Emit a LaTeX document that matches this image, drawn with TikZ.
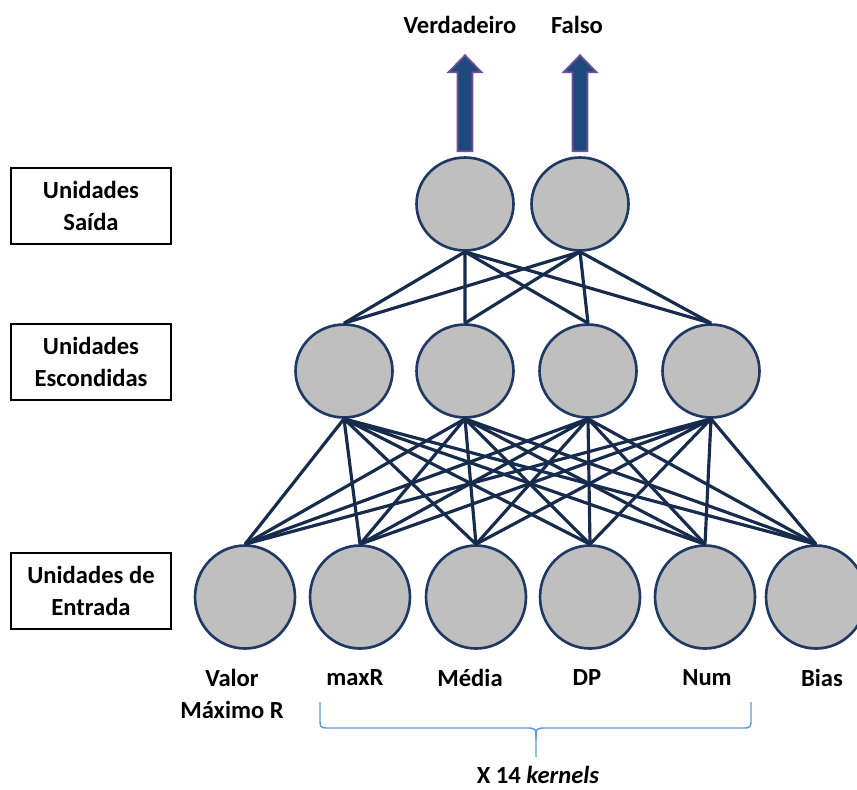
\documentclass[tikz,border=0pt]{standalone}
\usepackage{fontspec}
\setmainfont{Carlito}
\usetikzlibrary{calc}
\usetikzlibrary{shapes.geometric}
\definecolor{mynavy}{RGB}{23,43,77}
\definecolor{myring}{RGB}{31,56,100}
\definecolor{mygray}{RGB}{191,191,191}
\definecolor{myarrow}{RGB}{31,73,125}
\definecolor{myviolet}{RGB}{112,80,150}
\definecolor{mybrace}{RGB}{91,155,213}

\begin{document}
\begin{tikzpicture}[%
  x=0.02cm,
  y=-0.02cm,
  unit/.style={ellipse, draw=myring, fill=mygray, line width=1.5pt,
    inner sep=0pt, minimum width=1.94cm, minimum height=1.86cm},
  inunit/.style={unit, minimum width=2cm, minimum height=2.06cm},
  layerbox/.style={draw=black, line width=1.4pt, minimum width=3.2cm,
    minimum height=1.52cm, align=center, font=\fontsize{14}{18}\selectfont\bfseries},
  label/.style={font=\fontsize{14}{18}\selectfont\bfseries, align=center},
  edge/.style={mynavy, line width=1.8pt},
  outarrow/.style={fill=myarrow, draw=myviolet, line width=1pt},
]

  \useasboundingbox (0,0) rectangle (857,789);

  % layer boxes
  \node[layerbox] (bout) at (91,206) {Unidades\\Saída};
  \node[layerbox] (bhid) at (91,362) {Unidades\\Escondidas};
  \node[layerbox] (bin) at (91,591) {Unidades de\\Entrada};

  % output units
  \node[unit] (o1) at (465,204) {};
  \node[unit] (o2) at (580,204) {};

  % hidden units
  \node[unit] (h1) at (344,371) {};
  \node[unit] (h2) at (465,371) {};
  \node[unit] (h3) at (588,371) {};
  \node[unit] (h4) at (711,371) {};

  % input units
  \node[inunit] (i1) at (245,597) {};
  \node[inunit] (i2) at (360,597) {};
  \node[inunit] (i3) at (476,597) {};
  \node[inunit] (i4) at (590,597) {};
  \node[inunit] (i5) at (705,597) {};
  \node[inunit] (i6) at (816,597) {};

  % output -> hidden
  \draw[edge] (o1.south) -- (h1.north) (o1.south) -- (h2.north)
              (o1.south) -- (h3.north) (o1.south) -- (h4.north);
  \draw[edge] (o2.south) -- (h1.north) (o2.south) -- (h2.north)
              (o2.south) -- (h3.north) (o2.south) -- (h4.north);

  % hidden -> input
  \draw[edge] (h1.south) -- (i1.north) (h1.south) -- (i2.north) (h1.south) -- (i3.north)
              (h1.south) -- (i4.north) (h1.south) -- (i5.north) (h1.south) -- (i6.north);
  \draw[edge] (h2.south) -- (i1.north) (h2.south) -- (i2.north) (h2.south) -- (i3.north)
              (h2.south) -- (i4.north) (h2.south) -- (i5.north) (h2.south) -- (i6.north);
  \draw[edge] (h3.south) -- (i1.north) (h3.south) -- (i2.north) (h3.south) -- (i3.north)
              (h3.south) -- (i4.north) (h3.south) -- (i5.north) (h3.south) -- (i6.north);
  \draw[edge] (h4.south) -- (i1.north) (h4.south) -- (i2.north) (h4.south) -- (i3.north)
              (h4.south) -- (i4.north) (h4.south) -- (i5.north) (h4.south) -- (i6.north);

  % output arrows
  \draw[outarrow] ($(o1.north)+(-7.5,-5)$) -- ($(o1.north)+(-7.5,-84)$)
    -- ($(o1.north)+(-16.5,-84)$) -- ($(o1.north)+(0,-101)$)
    -- ($(o1.north)+(16.5,-84)$) -- ($(o1.north)+(7.5,-84)$)
    -- ($(o1.north)+(7.5,-5)$) -- cycle;
  \draw[outarrow] ($(o2.north)+(-7.5,-5)$) -- ($(o2.north)+(-7.5,-84)$)
    -- ($(o2.north)+(-16.5,-84)$) -- ($(o2.north)+(0,-101)$)
    -- ($(o2.north)+(16.5,-84)$) -- ($(o2.north)+(7.5,-84)$)
    -- ($(o2.north)+(7.5,-5)$) -- cycle;

  \node[label] (tv) at (460,25) {Verdadeiro};
  \node[label] (tf) at (577,25) {Falso};

  % input labels
  \node[label] (li1) at (232,694) {Valor\\Máximo R};
  \node[label] (li2) at (355,678) {maxR};
  \node[label] (li3) at (470,678) {Média};
  \node[label] (li4) at (587,678) {DP};
  \node[label] (li5) at (707,678) {Num};
  \node[label] (li6) at (822,678) {Bias};

  % brace
  \draw[mybrace, line width=0.8pt] (320,702) -- (320,718)
    .. controls (320,728) .. (330,728) -- (526,728)
    .. controls (536,728) .. (536,740) -- (536,757);
  \draw[mybrace, line width=0.8pt] (751,702) -- (751,718)
    .. controls (751,728) .. (741,728) -- (546,728)
    .. controls (536,728) .. (536,740);

  \node[label, inner sep=0pt] (lk) at (538,775) {X 14 \textit{kernels}};

\end{tikzpicture}
\end{document}
